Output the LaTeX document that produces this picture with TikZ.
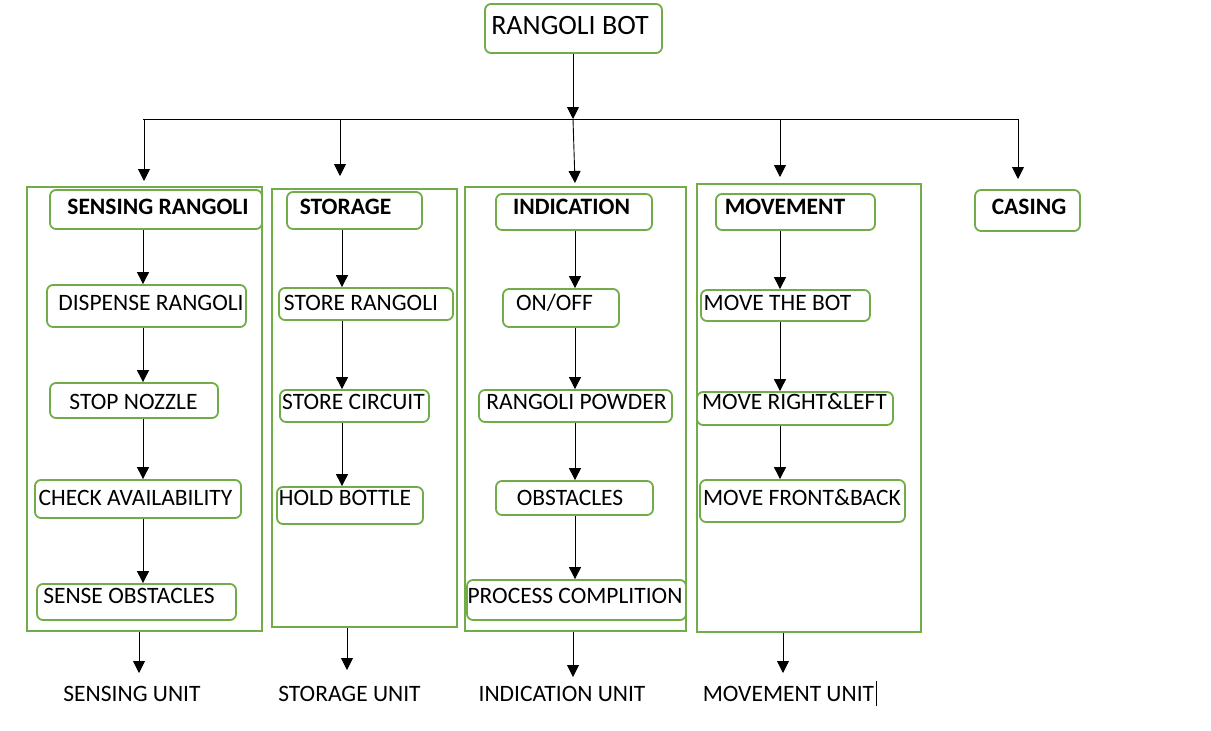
\documentclass[tikz,border=0pt]{standalone}
\usepackage{fontspec}
\setmainfont{Carlito}
\usetikzlibrary{arrows.meta}
\definecolor{grn}{RGB}{112,173,71}
\begin{document}
\begin{tikzpicture}[x=1pt,y=-1pt,
  grp/.style={draw=grn, line width=1.8pt, inner sep=0pt},
  ib/.style={draw=grn, line width=1.8pt, rounded corners=6pt, inner sep=0pt},
  txt/.style={inner sep=0pt, text height=15pt, text depth=0pt, font=\fontsize{23.5}{26}\selectfont},
  htxt/.style={txt, font=\bfseries\fontsize{23.5}{26}\selectfont},
  arr/.style={-{Triangle[length=12pt,width=12pt]}, line width=0.9pt, black},
  ln/.style={line width=0.9pt, black}]
\useasboundingbox (0,0) rectangle (1211,731);

% top
\node[ib, minimum width=177pt, minimum height=49pt] (bot) at (573.5,28.5) {};
\node[txt, text height=18pt, font=\fontsize{28}{30}\selectfont] (bott) at (570,25) {RANGOLI BOT};

% group frames
\node[grp, minimum width=235pt, minimum height=444pt] (gS) at (144.5,409) {};
\node[grp, minimum width=185pt, minimum height=438pt] (gT) at (364.5,408) {};
\node[grp, minimum width=221pt, minimum height=444pt] (gI) at (575.5,409) {};
\node[grp, minimum width=224pt, minimum height=448pt] (gM) at (809,408) {};

% sensing column
\node[ib, minimum width=212pt, minimum height=39pt] (sr) at (156,209.5) {};
\node[htxt] (srt) at (158,207) {SENSING RANGOLI};
\node[ib, minimum width=199pt, minimum height=42pt] (dr) at (146.5,306) {};
\node[txt] (drt) at (151,303) {DISPENSE RANGOLI};
\node[ib, minimum width=168pt, minimum height=35pt] (sn) at (134,400.5) {};
\node[txt] (snt) at (133.5,402) {STOP NOZZLE};
\node[ib, minimum width=206pt, minimum height=38pt] (ca) at (138,499) {};
\node[txt] (cat) at (135.5,498) {CHECK AVAILABILITY};
\node[ib, minimum width=199pt, minimum height=36pt] (so) at (136.5,602) {};
\node[txt] (sot) at (129,596) {SENSE OBSTACLES};

% storage column
\node[ib, minimum width=135pt, minimum height=37pt] (st) at (354.5,210.5) {};
\node[htxt] (stt) at (345.5,207) {STORAGE};
\node[ib, minimum width=174pt, minimum height=32pt] (sr2) at (366,304) {};
\node[txt] (sr2t) at (361,303) {STORE RANGOLI};
\node[ib, minimum width=149pt, minimum height=32pt] (sc) at (354.5,406) {};
\node[txt] (sct) at (353.5,402) {STORE CIRCUIT};
\node[ib, minimum width=146pt, minimum height=37pt] (hb) at (350,505.5) {};
\node[txt] (hbt) at (345,498) {HOLD BOTTLE};

% indication column
\node[ib, minimum width=156pt, minimum height=36pt] (in) at (574,212) {};
\node[htxt] (int) at (571.5,207) {INDICATION};
\node[ib, minimum width=116pt, minimum height=38pt] (oo) at (561,308) {};
\node[txt] (oot) at (554.5,303) {ON/OFF};
\node[ib, minimum width=193pt, minimum height=32pt] (rp) at (575.5,406) {};
\node[txt] (rpt) at (576.5,402) {RANGOLI POWDER};
\node[ib, minimum width=157pt, minimum height=34pt] (ob) at (574.5,498) {};
\node[txt] (obt) at (570,498) {OBSTACLES};
\node[ib, minimum width=219pt, minimum height=40pt] (pc) at (576.5,600) {};
\node[txt] (pct) at (575,596) {PROCESS COMPLITION};

% movement column
\node[ib, minimum width=159pt, minimum height=36pt] (mv) at (795.5,212) {};
\node[htxt] (mvt) at (785,207) {MOVEMENT};
\node[ib, minimum width=169pt, minimum height=31pt] (mb) at (785.5,305.5) {};
\node[txt] (mbt) at (777.5,303) {MOVE THE BOT};
\node[ib, minimum width=196pt, minimum height=33pt] (ml) at (795,408.5) {};
\node[txt] (mlt) at (794.5,402) {MOVE RIGHT\&LEFT};
\node[ib, minimum width=205pt, minimum height=42pt] (mf) at (802.5,501) {};
\node[txt] (mft) at (802,498) {MOVE FRONT\&BACK};

% casing
\node[ib, minimum width=105pt, minimum height=41pt] (cs) at (1027.5,210.5) {};
\node[htxt] (cst) at (1029,207) {CASING};

% bottom labels
\node[txt] (uS) at (132,694) {SENSING UNIT};
\node[txt] (uT) at (349.5,694) {STORAGE UNIT};
\node[txt] (uI) at (562,694) {INDICATION UNIT};
\node[txt] (uM) at (788.5,694) {MOVEMENT UNIT};

% coordinates
\coordinate (hL) at (143,119);
\coordinate (hR) at (1018,119);
\coordinate (hM) at (573,119);
\coordinate (d1) at (144,119); \coordinate (t1) at (144,181);
\coordinate (d2) at (340,119); \coordinate (t2) at (340,176);
\coordinate (d4) at (780,119); \coordinate (t4) at (780,177);
\coordinate (t3) at (575,183);
\coordinate (t5) at (1018,179);
\coordinate (cS) at (143,0);
\coordinate (cT) at (342,0);
\coordinate (cI) at (575,0);
\coordinate (cM) at (780,0);
\coordinate (bS) at (139,673);
\coordinate (bT) at (347,670);
\coordinate (bI) at (573,677);
\coordinate (bM) at (783,673);
\coordinate (cur1) at (876,681);
\coordinate (cur2) at (876,706);

% top connectors
\draw[arr] (bot.south -| hM) -- (hM);
\draw[ln] (hL) -- (hR);
\draw[arr] (d1) -- (t1);
\draw[arr] (d2) -- (t2);
\draw[arr] (hM) -- (t3);
\draw[arr] (d4) -- (t4);
\draw[arr] (hR) -- (t5);

% inner arrows
\draw[arr] (sr.south -| cS) -- (dr.north -| cS);
\draw[arr] (dr.south -| cS) -- (sn.north -| cS);
\draw[arr] (sn.south -| cS) -- (ca.north -| cS);
\draw[arr] (ca.south -| cS) -- (so.north -| cS);

\draw[arr] (st.south -| cT) -- (sr2.north -| cT);
\draw[arr] (sr2.south -| cT) -- (sc.north -| cT);
\draw[arr] (sc.south -| cT) -- (hb.north -| cT);

\draw[arr] (in.south -| cI) -- (oo.north -| cI);
\draw[arr] (oo.south -| cI) -- (rp.north -| cI);
\draw[arr] (rp.south -| cI) -- (ob.north -| cI);
\draw[arr] (ob.south -| cI) -- (pc.north -| cI);

\draw[arr] (mv.south -| cM) -- (mb.north -| cM);
\draw[arr] (mb.south -| cM) -- (ml.north -| cM);
\draw[arr] (ml.south -| cM) -- (mf.north -| cM);

% bottom arrows
\draw[arr] (gS.south -| bS) -- (bS);
\draw[arr] (gT.south -| bT) -- (bT);
\draw[arr] (gI.south -| bI) -- (bI);
\draw[arr] (gM.south -| bM) -- (bM);

% cursor mark
\draw[line width=0.8pt] (cur1) -- (cur2);
\end{tikzpicture}
\end{document}
